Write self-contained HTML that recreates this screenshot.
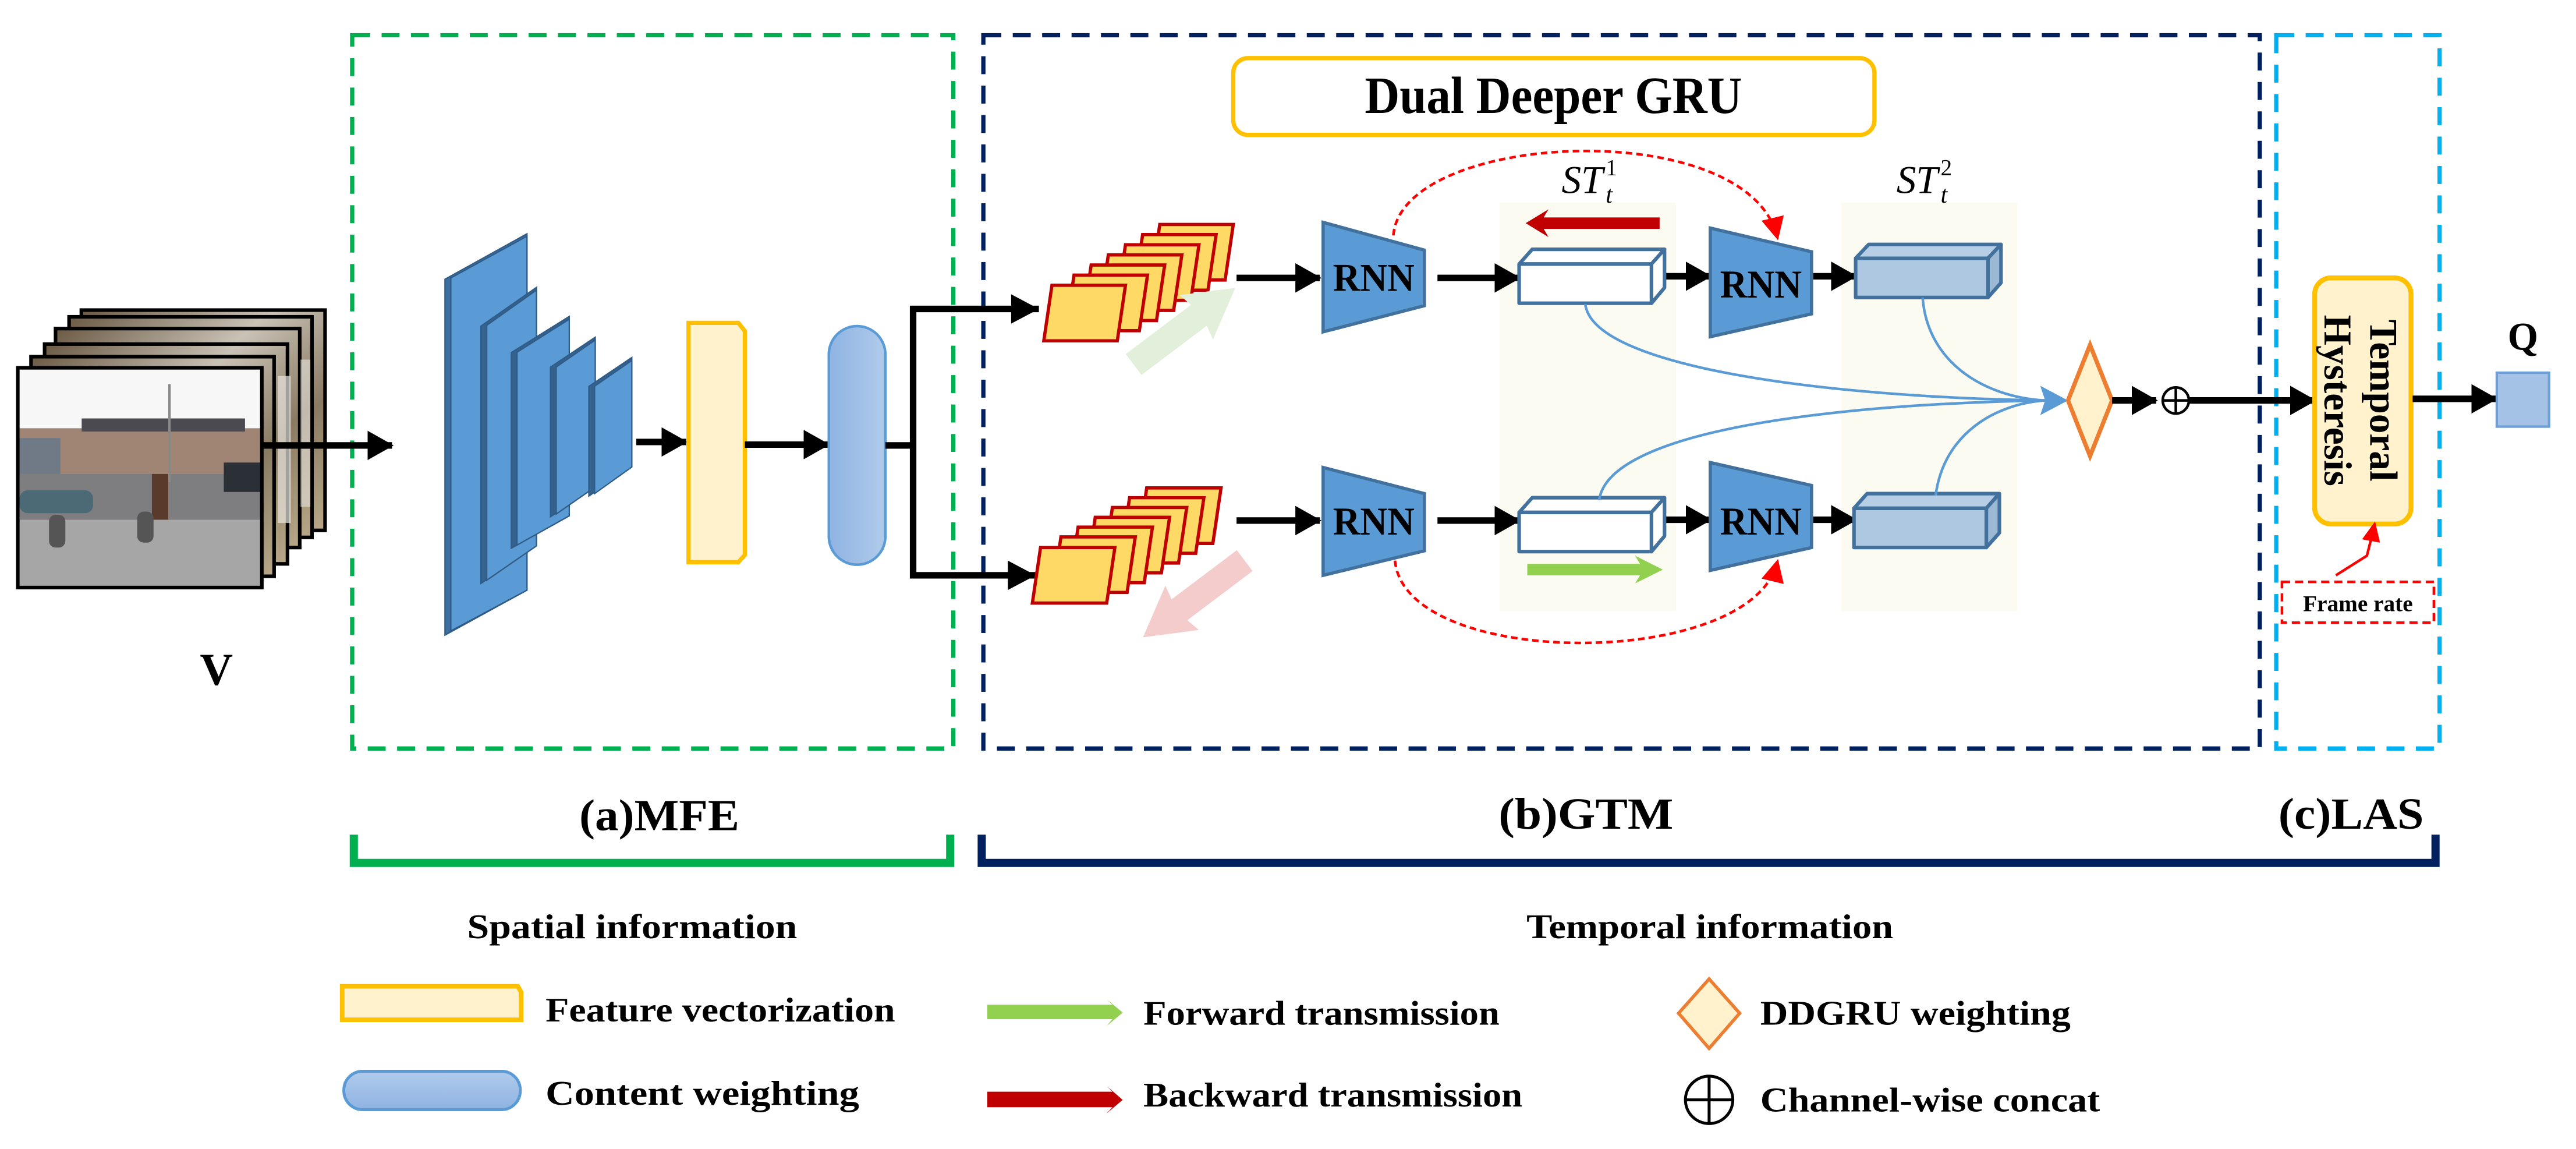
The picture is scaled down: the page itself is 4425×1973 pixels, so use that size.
<!DOCTYPE html>
<html><head><meta charset="utf-8"><style>
html,body{margin:0;padding:0;background:#fff;}
svg{display:block;}
text{font-family:"Liberation Serif",serif;font-weight:bold;fill:#000;}
</style></head><body>
<svg width="4425" height="1973" viewBox="0 0 1577 703" xmlns="http://www.w3.org/2000/svg">
<defs>
<marker id="ah" markerUnits="userSpaceOnUse" markerWidth="16" markerHeight="18" refX="15" refY="9" orient="auto"><path d="M0,0 L16,9 L0,18 z" fill="#000"/></marker>
<marker id="rh" markerUnits="userSpaceOnUse" markerWidth="14" markerHeight="14" refX="12" refY="7" orient="auto"><path d="M0,0 L14,7 L0,14 z" fill="#ff0000"/></marker>
<linearGradient id="cw" x1="0" x2="1" y1="0" y2="0"><stop offset="0" stop-color="#8fb3e2"/><stop offset="1" stop-color="#b0cbeb"/></linearGradient>
<linearGradient id="cwv" x1="0" x2="0" y1="0" y2="1"><stop offset="0" stop-color="#b0cbeb"/><stop offset="1" stop-color="#8fb3e2"/></linearGradient>
<linearGradient id="bk" x1="0" x2="1" y1="0" y2="1"><stop offset="0" stop-color="#6b5a44"/><stop offset="0.4" stop-color="#c9c2b6"/><stop offset="0.7" stop-color="#8a7a62"/><stop offset="1" stop-color="#b8a888"/></linearGradient>
</defs>

<rect x="918" y="124" width="108" height="250" fill="#fcfbf2"/>
<rect x="1127" y="124" width="108" height="250" fill="#fcfbf2"/>

<rect x="215.6" y="21.5" width="368" height="436.5" fill="none" stroke="#00b050" stroke-width="2.6" stroke-dasharray="11,7"/>
<rect x="602" y="21.5" width="781.4" height="436.5" fill="none" stroke="#002060" stroke-width="2.6" stroke-dasharray="11,7"/>
<rect x="1393.5" y="21.5" width="100" height="436.5" fill="none" stroke="#00b0f0" stroke-width="2.6" stroke-dasharray="11,7"/>

<g stroke="#000" stroke-width="2.2">
<rect x="49.8" y="189.7" width="149.2" height="134.8" fill="url(#bk)"/>
<rect x="42.3" y="193.8" width="148.7" height="135" fill="url(#bk)"/>
<rect x="34" y="201" width="149.5" height="134" fill="url(#bk)"/>
<rect x="27.3" y="210.5" width="148.7" height="134.5" fill="url(#bk)"/>
<rect x="19" y="218.2" width="148.8" height="134.4" fill="url(#bk)"/>
</g>
<rect x="170" y="230" width="8" height="90" fill="#e8e6e0" opacity="0.7"/>
<rect x="184" y="220" width="6" height="90" fill="#e8e6e0" opacity="0.6"/>
<g>
<rect x="10.9" y="225" width="149.4" height="134.5" fill="#f7f7f7"/>
<rect x="12" y="262" width="148" height="30" fill="#a08575"/>
<rect x="50" y="256" width="100" height="8" fill="#4a4a50"/>
<rect x="12" y="268" width="25" height="22" fill="#6f7a86"/>
<rect x="12" y="290" width="148" height="30" fill="#7e7e80"/>
<rect x="12" y="318" width="148" height="40.5" fill="#a6a6a6"/>
<rect x="12" y="300" width="45" height="14" rx="5" fill="#4b6a75"/>
<rect x="137" y="283" width="23" height="18" fill="#2b2f36"/>
<rect x="93" y="290" width="10" height="28" fill="#5a3a2a"/>
<rect x="30" y="315" width="10" height="20" rx="4" fill="#555"/>
<rect x="84" y="313" width="10" height="19" rx="4" fill="#555"/>
<rect x="103" y="235" width="1.5" height="60" fill="#888"/>
<rect x="10.9" y="225" width="149.4" height="134.5" fill="none" stroke="#000" stroke-width="2.2"/>
</g>
<line x1="160" y1="272.5" x2="240" y2="272.5" stroke="#000" stroke-width="4" marker-end="url(#ah)"/>
<text x="132.5" y="419" font-size="28" text-anchor="middle">V</text>

<g stroke="#2f5b86" stroke-width="0.8">
<polygon points="272.4,170.8 322.6,143 322.6,361.1 272.4,388.6" fill="#3c6fa0"/>
<polygon points="276,170 322.6,144.5 322.6,361.1 276,386" fill="#5b9bd5"/>
<polygon points="294.4,199.5 328.4,175.8 328.4,334 294.4,357" fill="#34628f"/>
<polygon points="298,199 328.4,177.5 328.4,334 298,355" fill="#5b9bd5"/>
<polygon points="313,215.7 348.5,193.6 348.5,315.6 313,335.4" fill="#34628f"/>
<polygon points="316.5,215.5 348.5,195.3 348.5,315.6 316.5,333.5" fill="#5b9bd5"/>
<polygon points="337,224.6 364.4,206.3 364.4,297.9 337,316.2" fill="#34628f"/>
<polygon points="340.5,224.5 364.4,208 364.4,297.9 340.5,314.5" fill="#5b9bd5"/>
<polygon points="360.5,236.4 386.8,218.7 386.8,285.7 360.5,303.5" fill="#34628f"/>
<polygon points="364,236.3 386.8,220.5 386.8,285.7 364,302" fill="#5b9bd5"/>
</g>
<line x1="389.5" y1="270.4" x2="420" y2="270.4" stroke="#000" stroke-width="4" marker-end="url(#ah)"/>
<polygon points="421.5,197.5 452,197.5 456,202.5 456,339.5 452,344 421.5,344" fill="#fff2cc" stroke="#ffc000" stroke-width="2.6"/>
<line x1="456" y1="272" x2="507" y2="272" stroke="#000" stroke-width="4" marker-end="url(#ah)"/>
<rect x="507.4" y="199.5" width="34.6" height="146" rx="17.3" fill="url(#cw)" stroke="#5b9bd5" stroke-width="1.6"/>

<polyline points="542,272.5 559,272.5" fill="none" stroke="#000" stroke-width="4"/>
<polyline points="636,189 559,189 559,352 634,352" fill="none" stroke="#000" stroke-width="4"/>
<polygon points="619,180 636,189 619,198" fill="#000"/>
<polygon points="617,343 634,352 617,361" fill="#000"/>

<g stroke="#c00000" stroke-width="2" fill="#ffd966">
<polygon points="710,137.3 755,137.3 750,171.3 705,171.3"/>
<polygon points="699.5,143.5 744.5,143.5 739.5,177.5 694.5,177.5"/>
<polygon points="689,149.7 734,149.7 729,183.7 684,183.7"/>
<polygon points="678.5,155.9 723.5,155.9 718.5,189.9 673.5,189.9"/>
<polygon points="668,162.1 713,162.1 708,196.1 663,196.1"/>
<polygon points="657.5,168.3 702.5,168.3 697.5,202.3 652.5,202.3"/>
<polygon points="644,174.5 689,174.5 684,208.5 639,208.5"/>
</g>
<g stroke="#c00000" stroke-width="2" fill="#ffd966">
<polygon points="702,298.5 747.5,298.5 742.5,332.5 697,332.5"/>
<polygon points="691.5,304.5 737,304.5 732,338.5 686.5,338.5"/>
<polygon points="681,310.5 726.5,310.5 721.5,344.5 676,344.5"/>
<polygon points="670.5,316.5 716,316.5 711,350.5 665.5,350.5"/>
<polygon points="660,322.5 705.5,322.5 700.5,356.5 655,356.5"/>
<polygon points="649.5,328.5 695,328.5 690,362.5 644.5,362.5"/>
<polygon points="637,335 682.5,335 677.5,369 632,369"/>
</g>
<g transform="translate(694,223) rotate(-37)"><polygon points="0,-8 50,-8 48,-17 78,0 48,17 50,8 0,8" fill="#e2efda"/></g>
<g transform="translate(762,343) rotate(143)"><polygon points="0,-8 50,-8 48,-17 78,0 48,17 50,8 0,8" fill="#f4cccc"/></g>

<g stroke="#000" stroke-width="4">
<line x1="757" y1="170" x2="808" y2="170" marker-end="url(#ah)"/>
<line x1="757" y1="318.5" x2="808" y2="318.5" marker-end="url(#ah)"/>
<line x1="880" y1="170" x2="930" y2="170" marker-end="url(#ah)"/>
<line x1="880" y1="318.5" x2="930" y2="318.5" marker-end="url(#ah)"/>
<line x1="1019" y1="169" x2="1047" y2="169" marker-end="url(#ah)"/>
<line x1="1019" y1="318" x2="1047" y2="318" marker-end="url(#ah)"/>
<line x1="1110" y1="169" x2="1136" y2="169" marker-end="url(#ah)"/>
<line x1="1110" y1="318" x2="1136" y2="318" marker-end="url(#ah)"/>
</g>
<g fill="#5b9bd5" stroke="#41719c" stroke-width="2">
<polygon points="810,136 872,153 872,187 810,203"/>
<polygon points="810,286 872,302 872,337 810,352"/>
<polygon points="1047,139.5 1109,154 1109,192 1047,206"/>
<polygon points="1047,283 1109,297 1109,335 1047,349"/>
</g>
<g font-size="24" text-anchor="middle">
<text x="841" y="178" textLength="50" lengthAdjust="spacingAndGlyphs">RNN</text>
<text x="841" y="327" textLength="50" lengthAdjust="spacingAndGlyphs">RNN</text>
<text x="1078" y="182" textLength="50" lengthAdjust="spacingAndGlyphs">RNN</text>
<text x="1078" y="327" textLength="50" lengthAdjust="spacingAndGlyphs">RNN</text>
</g>
<g stroke="#41719c" stroke-width="2.2" stroke-linejoin="round">
<polygon points="930,161.5 938,152.5 1019,152.5 1011,161.5" fill="#fff"/>
<polygon points="1011,161.5 1019,152.5 1019,176 1011,185.5" fill="#fff"/>
<rect x="930" y="161.5" width="81" height="24" fill="#fff"/>
<polygon points="930,313.5 938,304.5 1019,304.5 1011,313.5" fill="#fff"/>
<polygon points="1011,313.5 1019,304.5 1019,328 1011,337.5" fill="#fff"/>
<rect x="930" y="313.5" width="81" height="24" fill="#fff"/>
<polygon points="1136,158 1144,149.5 1225,149.5 1217,158" fill="#b7cfe6"/>
<polygon points="1217,158 1225,149.5 1225,173 1217,182" fill="#9bb8d4"/>
<rect x="1136" y="158" width="81" height="24" fill="#adc8e0"/>
<polygon points="1135,311 1143,302 1224,302 1216,311" fill="#b7cfe6"/>
<polygon points="1216,311 1224,302 1224,326 1216,335" fill="#9bb8d4"/>
<rect x="1135" y="311" width="81" height="24" fill="#adc8e0"/>
</g>
<g font-style="italic">
<text x="956" y="118" font-size="24" style="font-weight:normal">ST</text>
<text x="983" y="107" font-size="14" style="font-weight:normal;font-style:normal">1</text>
<text x="983" y="124" font-size="15" style="font-weight:normal">t</text>
<text x="1161" y="118" font-size="24" style="font-weight:normal">ST</text>
<text x="1188" y="107" font-size="14" style="font-weight:normal;font-style:normal">2</text>
<text x="1188" y="124" font-size="15" style="font-weight:normal">t</text>
</g>
<polygon points="1016,133 945,133 948,128 934,136.5 948,145 945,140 1016,140" fill="#c00000"/>
<polygon points="935,345 1004,345 1001,340 1018,348.5 1001,357 1004,352 935,352" fill="#92d050"/>
<path d="M853,144 C858,80 1070,70 1088,145" fill="none" stroke="#ff0000" stroke-width="1.6" stroke-dasharray="4,2.5" marker-end="url(#rh)"/>
<path d="M854,343 C860,410 1072,410 1088,344" fill="none" stroke="#ff0000" stroke-width="1.6" stroke-dasharray="4,2.5" marker-end="url(#rh)"/>
<g fill="none" stroke="#5b9bd5" stroke-width="1.6">
<path d="M970.5,186 C975,225 1120,243 1252,245"/>
<path d="M1177,182 C1180,222 1215,243 1252,245"/>
<path d="M979,306 C985,262 1130,247 1252,245"/>
<path d="M1185,303 C1190,265 1222,247 1252,245"/>
</g>
<polygon points="1249,236 1266,245 1249,254 1252,245" fill="#5b9bd5"/>
<polygon points="1279.5,211 1293,245 1279.5,279 1266,245" fill="#fff2cc" stroke="#ed7d31" stroke-width="2.6"/>
<line x1="1293" y1="245" x2="1320" y2="245" stroke="#000" stroke-width="4" marker-end="url(#ah)"/>
<circle cx="1332" cy="245" r="8" fill="none" stroke="#000" stroke-width="1.6"/>
<line x1="1324" y1="245" x2="1340" y2="245" stroke="#000" stroke-width="1.6"/>
<line x1="1332" y1="237" x2="1332" y2="253" stroke="#000" stroke-width="1.6"/>
<line x1="1340" y1="245" x2="1417" y2="245" stroke="#000" stroke-width="4" marker-end="url(#ah)"/>
<rect x="1417" y="170" width="59" height="150.6" rx="10" fill="#fff2cc" stroke="#ffc000" stroke-width="3"/>
<g transform="translate(1451,245) rotate(90)" font-size="24" text-anchor="middle"><text x="0" y="0">Temporal</text></g>
<g transform="translate(1423,245) rotate(90)" font-size="24" text-anchor="middle"><text x="0" y="0">Hysteresis</text></g>
<polyline points="1430,352 1449,340 1452,328" fill="none" stroke="#ff0000" stroke-width="1.6"/>
<polygon points="1446,330 1454,319 1457,332" fill="#ff0000"/>
<rect x="1397" y="356" width="93" height="25" fill="none" stroke="#ff0000" stroke-width="1.6" stroke-dasharray="5,3"/>
<text x="1443.5" y="374" font-size="14" text-anchor="middle">Frame rate</text>
<line x1="1477" y1="244" x2="1528" y2="244" stroke="#000" stroke-width="4" marker-end="url(#ah)"/>
<rect x="1528.5" y="228" width="32" height="33" fill="#a4c2e6" stroke="#6f9fd8" stroke-width="1.5"/>
<text x="1544.5" y="214" font-size="24" text-anchor="middle">Q</text>
<rect x="755" y="35.5" width="392.5" height="47" rx="9" fill="#fff" stroke="#ffc000" stroke-width="2.6"/>
<text x="951" y="69" font-size="32" text-anchor="middle" textLength="231" lengthAdjust="spacingAndGlyphs">Dual Deeper GRU</text>

<polyline points="216.6,510.7 216.6,528 581.7,528 581.7,510.7" fill="none" stroke="#00b050" stroke-width="5"/>
<polyline points="601,510.7 601,528 1491,528 1491,510.7" fill="none" stroke="#002060" stroke-width="5"/>
<g font-size="27">
<text x="354.6" y="508" textLength="98" lengthAdjust="spacingAndGlyphs">(a)MFE</text>
<text x="917.4" y="507" textLength="107" lengthAdjust="spacingAndGlyphs">(b)GTM</text>
<text x="1394.8" y="507" textLength="89" lengthAdjust="spacingAndGlyphs">(c)LAS</text>
</g>
<g font-size="21">
<text x="286" y="574" textLength="202" lengthAdjust="spacingAndGlyphs">Spatial  information</text>
<text x="934.5" y="574" textLength="224.5" lengthAdjust="spacingAndGlyphs">Temporal information</text>
<text x="334" y="625" textLength="214" lengthAdjust="spacingAndGlyphs">Feature vectorization</text>
<text x="334" y="676" textLength="192" lengthAdjust="spacingAndGlyphs">Content  weighting</text>
<text x="700" y="627" textLength="218" lengthAdjust="spacingAndGlyphs">Forward transmission</text>
<text x="700" y="677" textLength="232" lengthAdjust="spacingAndGlyphs">Backward transmission</text>
<text x="1077.6" y="627" textLength="190" lengthAdjust="spacingAndGlyphs">DDGRU weighting</text>
<text x="1077.6" y="680" textLength="208" lengthAdjust="spacingAndGlyphs">Channel-wise concat</text>
</g>
<polygon points="209.5,603.5 317,603.5 319,607 319,624 209.5,624" fill="#fff2cc" stroke="#ffc000" stroke-width="2.8"/>
<rect x="210.5" y="655.5" width="108" height="23.5" rx="11.5" fill="url(#cwv)" stroke="#5b9bd5" stroke-width="1.8"/>
<polygon points="604.4,614.8 681,614.8 677.5,611.4 687.3,619.6 677.5,627.8 681,623.6 604.4,623.6" fill="#92d050"/>
<polygon points="604.4,668 681,668 677.5,664.5 687.3,673 677.5,681.3 681,677.5 604.4,677.5" fill="#c00000"/>
<polygon points="1046.3,599 1065,620 1046.3,641.5 1027.6,620" fill="#fff2cc" stroke="#ed7d31" stroke-width="2"/>
<circle cx="1046.3" cy="673" r="14.5" fill="none" stroke="#000" stroke-width="1.8"/>
<line x1="1031.8" y1="673" x2="1060.8" y2="673" stroke="#000" stroke-width="1.8"/>
<line x1="1046.3" y1="658.5" x2="1046.3" y2="687.5" stroke="#000" stroke-width="1.8"/>
</svg>
</body></html>
